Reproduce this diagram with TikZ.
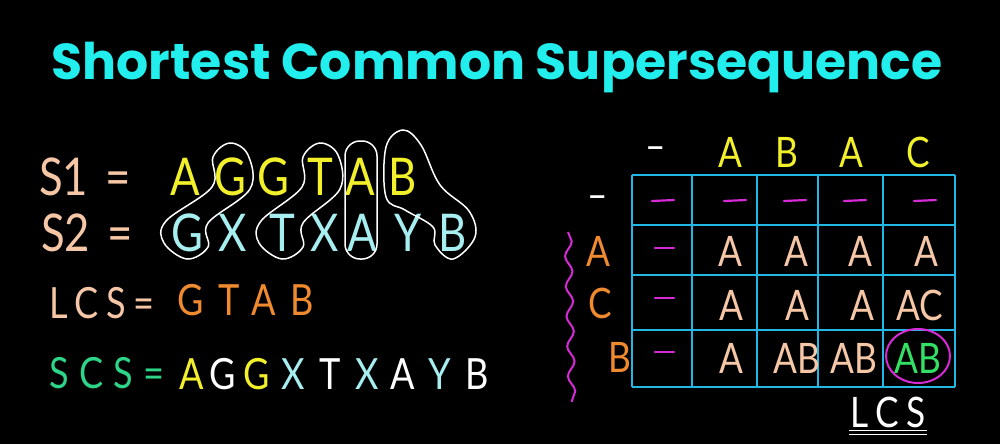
\documentclass[tikz,border=0pt]{standalone}
\usepackage{fontspec}
\setmainfont{Lato}[FakeStretch=0.84]
\newfontfamily\titlefont{Poppins}
\usetikzlibrary{positioning, calc, decorations.pathmorphing}
\definecolor{titlecyan}{HTML}{22EEEE}
\definecolor{peach}{HTML}{F6C7A6}
\definecolor{chalkyellow}{HTML}{F2F02A}
\definecolor{palecyan}{HTML}{A6EEF0}
\definecolor{chalkorange}{HTML}{F08A2E}
\definecolor{chalkgreen}{HTML}{2ED488}
\definecolor{cellgreen}{HTML}{33E066}
\definecolor{chalkpink}{HTML}{D62AD6}
\definecolor{gridblue}{HTML}{22B8E6}
\tikzset{
  big/.style={font=\fontsize{52}{52}\selectfont, inner sep=1pt},
  small/.style={font=\fontsize{43}{43}\selectfont, inner sep=1pt},
  mid/.style={font=\fontsize{42}{42}\selectfont, inner sep=1pt},
  spaced/.style={font=\fontsize{43}{43}\selectfont\addfontfeatures{LetterSpace=#1}, inner sep=1pt},
  spaced/.default=18,
  loopline/.style={white, line width=1.5pt},
  gridline/.style={gridblue, line width=2.4pt},
  celldash/.style={chalkpink, line width=2.2pt, line cap=round}
}
% loop round a letter of S1 and the letter of S2 down to its left
\newcommand{\pairloop}[2]{%
  \draw[loopline] plot[smooth cycle, tension=0.6] coordinates {
    ($(#1)+(0,-34)$) ($(#1)+(18,-22)$) ($(#1)+(20,12)$)
    ($(#2)+(21,-10)$) ($(#2)+(21,14)$) ($(#2)+(0,26)$)
    ($(#2)+(-23,10)$) ($(#2)+(-21,-12)$)
    ($(#1)+(-18,10)$) ($(#1)+(-17,-20)$)};}

\begin{document}
\begin{tikzpicture}[x=1pt, y=-1pt]
\fill[black] (0,0) rectangle (1000,444);
\useasboundingbox (0,0) rectangle (1000,444);

% title
\node[titlecyan, font=\titlefont\bfseries\fontsize{50.5}{50.5}\selectfont] (title) at (497,68) {Shortest Common Supersequence};

% the two strings
\node[big, peach, anchor=west] (s1) at (38,177) {S1\,\,=};
\node[big, peach, anchor=west] (s2) at (40,233) {S2\,\,=};
\foreach \ch/\x [count=\i] in {A/185, G/230, G/273, T/320, A/360, B/403}
  \node[big, chalkyellow] (s1-\i) at (\x,177) {\ch};
\foreach \ch/\x [count=\i] in {G/187, X/233, T/282, X/325, A/362, Y/408, B/453}
  \node[big, palecyan] (s2-\i) at (\x,233) {\ch};

% matched pairs
\pairloop{s1-2}{s2-1}
\pairloop{s1-4}{s2-3}
\draw[loopline, rounded corners=15pt] ($(s1-5)+(-15,-36)$) rectangle ($(s2-5)+(15,26)$);
\draw[loopline] plot[smooth cycle, tension=0.6] coordinates {
  ($(s1-6)+(0,-47)$) ($(s1-6)+(18,-32)$) ($(s1-6)+(37,8)$)
  ($(s2-7)+(16,-22)$) ($(s2-7)+(22,4)$) ($(s2-7)+(0,26)$)
  ($(s2-7)+(-18,12)$) ($(s2-7)+(-20,-6)$)
  ($(s1-6)+(2,33)$) ($(s1-6)+(-17,20)$) ($(s1-6)+(-17,-30)$)};

% lcs and scs
\node[spaced, peach, anchor=west] (lcs) at (48,303) {LCS=};
\node[spaced=34, chalkorange, anchor=west] (lcsval) at (176,300) {GTAB};
\node[spaced=24, chalkgreen, anchor=west] (scs) at (48,373) {SCS=};
\foreach \ch/\x/\c [count=\i] in {A/192/chalkyellow, G/223/white, G/257/chalkyellow, X/293/palecyan, T/330/white, X/367/palecyan, A/403/white, Y/440/palecyan, B/477/white}
  \node[small, \c] (scs-\i) at (\x,374) {\ch};

% brace
\draw[chalkpink, line width=2pt, decorate, decoration={snake, amplitude=3.5pt, segment length=30pt}] (568,232) -- (572,402);

% table
\foreach \x in {632, 692, 757, 818, 883, 955}
  \draw[gridline] (\x,175) -- (\x,387);
\foreach \y in {175, 225, 275, 330, 387}
  \draw[gridline] (632,\y) -- (955,\y);

\node[mid, white] (colnil) at (656,154) {–};
\foreach \ch/\x [count=\i] in {A/730, B/787, A/851, C/918}
  \node[mid, chalkyellow] (col-\i) at (\x,152) {\ch};
\node[mid, white] (rownil) at (598,203) {–};
\foreach \ch/\y/\x [count=\i] in {A/251/598, C/303/600, B/357/620}
  \node[mid, chalkorange] (row-\i) at (\x,\y) {\ch};

% dashes
\foreach \x in {663, 735, 795, 855, 925}
  \draw[celldash] (\x-11,201) -- (\x+11,200);
\foreach \y in {248, 298, 352}
  \draw[celldash] (655,\y) -- (674,\y);

% filled cells
\foreach \txt/\x/\y [count=\i] in {A/730/251, A/796/251, A/860/251, A/926/251,
  A/731/305, A/797/305, A/862/305, AC/920/305,
  A/731/358, AB/797/358, AB/854/358}
  \node[mid, peach] (cell-\i) at (\x,\y) {\txt};
\node[mid, cellgreen] (best) at (918,358) {AB};
\draw[chalkpink, line width=2pt] ($(best)+(0,-2)$) ellipse [x radius=32pt, y radius=27pt];

% answer marker
\node[mid, white] (lcsmark) at (888,412) {L\,C\,S};
\draw[white, line width=1.6pt] ([yshift=-2pt]lcsmark.south west) -- ([yshift=-2pt]lcsmark.south east);
\draw[white, line width=1.6pt] ([yshift=-6pt]lcsmark.south west) -- ([yshift=-6pt]lcsmark.south east);
\end{tikzpicture}
\end{document}
